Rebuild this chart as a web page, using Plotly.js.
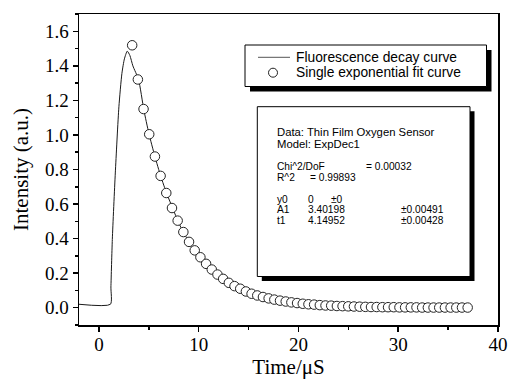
<!DOCTYPE html>
<html>
<head>
<meta charset="utf-8">
<script src="https://cdn.plot.ly/plotly-3.0.1.min.js"></script>
<style>html,body{margin:0;padding:0;background:#fff;}#chart{width:510px;height:383px;}</style>
</head>
<body>
<div id="chart"></div>
<script>
// Fluorescence decay curve (measured)
const decayTime = [-2, 1.15, 1.2, 1.34, 1.64, 2.0, 2.3, 2.55, 2.84, 3.1, 3.4, 3.97, 4.5, 5.0, 5.6, 6.2, 6.8, 7.4, 8.0, 9.0, 10.0, 11.0, 12.0, 13.0, 14.0, 15.0, 16.0, 18.0, 20.0, 22.0, 25.0, 28.0, 31.0, 34.0, 37.0];
const decayIntensity = [0.02, 0.02, 0.12, 0.395, 0.78, 1.163, 1.356, 1.44, 1.485, 1.46, 1.40, 1.32, 1.145, 1.01, 0.877, 0.76, 0.66, 0.575, 0.49, 0.383, 0.30, 0.238, 0.186, 0.145, 0.113, 0.088, 0.068, 0.042, 0.026, 0.016, 0.008, 0.004, 0.002, 0.001, 0.001];

// Single exponential fit curve (circles)
const fitTime = [3.33, 3.90, 4.47, 5.04, 5.61, 6.18, 6.75, 7.32, 7.89, 8.46, 9.03, 9.60, 10.17, 10.74, 11.31, 11.88, 12.45, 13.02, 13.59, 14.16, 14.73, 15.30, 15.87, 16.44, 17.01, 17.58, 18.15, 18.72, 19.29, 19.86, 20.43, 21.00, 21.57, 22.14, 22.71, 23.28, 23.85, 24.42, 24.99, 25.56, 26.13, 26.70, 27.27, 27.84, 28.41, 28.98, 29.55, 30.12, 30.69, 31.26, 31.83, 32.40, 32.97, 33.54, 34.11, 34.68, 35.25, 35.82, 36.39, 36.96];
const fitIntensity = [1.519, 1.321, 1.150, 1.004, 0.875, 0.763, 0.664, 0.577, 0.504, 0.438, 0.381, 0.332, 0.292, 0.254, 0.221, 0.192, 0.167, 0.144, 0.125, 0.110, 0.094, 0.081, 0.071, 0.062, 0.054, 0.047, 0.041, 0.036, 0.031, 0.027, 0.023, 0.020, 0.018, 0.015, 0.013, 0.012, 0.010, 0.009, 0.008, 0.007, 0.006, 0.005, 0.004, 0.004, 0.003, 0.003, 0.003, 0.002, 0.002, 0.002, 0.002, 0.001, 0.001, 0.001, 0.001, 0.001, 0.001, 0.001, 0.001, 0.001];

const legendLabels = ["Fluorescence decay curve", "Single exponential fit curve"];
const xTickVals = [0, 10, 20, 30, 40];
const yTickVals = [0.0, 0.2, 0.4, 0.6, 0.8, 1.0, 1.2, 1.4, 1.6];

const fitInfoHeader = ["Data: Thin Film Oxygen Sensor", "Model: ExpDec1"];
const fitStats = [["Chi^2/DoF", "= 0.00032"], ["R^2", "= 0.99893"]];
const paramNames = ["y0", "A1", "t1"];
const paramValues = ["0", "3.40198", "4.14952"];
const paramErrors = ["±0", "±0.00491", "±0.00428"];

// Plot area in pixels
const L = 79, R = 498, T = 14, B = 325, W = 510, H = 383;
const px = x => (x - L) / (R - L);
const py = y => (B - y) / (B - T);

const serif = "Liberation Serif, Times New Roman, serif";
const sans = "Liberation Sans, Arial, sans-serif";

const traces = [
  {x: decayTime, y: decayIntensity, mode: "lines", name: legendLabels[0],
   line: {color: "#1a1a1a", width: 1, shape: "spline", smoothing: 0.6}, showlegend: false},
  {x: fitTime, y: fitIntensity, mode: "markers", name: legendLabels[1],
   marker: {symbol: "circle", size: 9.5, color: "#ffffff", line: {color: "#222", width: 1}}, showlegend: false}
];

const shapes = [];
const annotations = [];
function box(x0, y0, x1, y1, off) {
  shapes.push({type: "rect", xref: "paper", yref: "paper", x0: px(x0 + off), x1: px(x1 + off), y0: py(y1 + off), y1: py(y0 + off), fillcolor: "#000", line: {width: 0}, layer: "above"});
  shapes.push({type: "rect", xref: "paper", yref: "paper", x0: px(x0), x1: px(x1), y0: py(y1), y1: py(y0), fillcolor: "#fff", line: {color: "#000", width: 1}, layer: "above"});
}
function txt(s, x, y, size) {
  annotations.push({text: s, xref: "paper", yref: "paper", x: px(x), y: py(y), xanchor: "left", yanchor: "middle", showarrow: false, borderpad: 0,
    font: {family: sans, size: size, color: "#000"}});
}

// Legend box
box(245, 45, 486.5, 86.5, 5);
shapes.push({type: "line", xref: "paper", yref: "paper", x0: px(258), x1: px(290), y0: py(57.3), y1: py(57.3), line: {color: "#555", width: 1}, layer: "above"});
shapes.push({type: "circle", xref: "paper", yref: "paper", x0: px(273 - 4.5), x1: px(273 + 4.5), y0: py(72.7 + 4.5), y1: py(72.7 - 4.5), fillcolor: "#fff", line: {color: "#222", width: 1}, layer: "above"});
txt(legendLabels[0], 295, 57.3, 13.8);
txt(legendLabels[1], 295, 72.7, 13.8);

// Fit info box
box(257.3, 106.7, 470, 276.5, 4.5);
const fs = 11.3;
const fsRows = 10.2;
txt(fitInfoHeader[0], 276, 132, fs);
txt(fitInfoHeader[1], 276, 144, fs);
txt(fitStats[0][0], 276, 166.4, fsRows); txt(fitStats[0][1], 364.5, 166.4, fsRows);
txt(fitStats[1][0], 276, 177.4, fsRows); txt(fitStats[1][1], 308.8, 177.4, fsRows);
const rowY = [199, 209.8, 220.6];
for (let i = 0; i < paramNames.length; i++) {
  txt(paramNames[i], 276, rowY[i], fsRows);
  txt(paramValues[i], 306.8, rowY[i], fsRows);
  txt(paramErrors[i], i === 0 ? 330.2 : 399.5, rowY[i], fsRows);
}

const axisCommon = {
  showgrid: false, zeroline: false, showline: true, linecolor: "#000", linewidth: 1.5, mirror: true,
  ticks: "outside", ticklen: 5, tickwidth: 1.5, tickcolor: "#000",
  tickfont: {family: serif, size: 19, color: "#000"}
};

const layout = {
  width: W, height: H,
  margin: {l: L, r: W - R, t: T, b: H - B, pad: 0},
  paper_bgcolor: "#fff", plot_bgcolor: "#fff",
  showlegend: false,
  xaxis: Object.assign({}, axisCommon, {
    range: [-2, 40], tickvals: xTickVals, ticktext: xTickVals.map(String),
    ticklabelstandoff: -3,
    minor: {dtick: 5, tick0: 0, ticks: "outside", ticklen: 3, tickwidth: 1.5, tickcolor: "#000"},
    title: {text: "Time/μS", font: {family: serif, size: 21, color: "#000"}, standoff: 2}
  }),
  yaxis: Object.assign({}, axisCommon, {
    range: [-0.1, 1.7], tickvals: yTickVals, ticktext: yTickVals.map(v => v.toFixed(1)),
    minor: {dtick: 0.1, tick0: 0, ticks: "outside", ticklen: 3, tickwidth: 1.5, tickcolor: "#000"},
    title: {text: "Intensity (a.u.)", font: {family: serif, size: 21, color: "#000"}, standoff: 10}
  }),
  shapes: shapes,
  annotations: annotations
};

Plotly.newPlot("chart", traces, layout, {displayModeBar: false, staticPlot: true});
</script>
</body>
</html>
